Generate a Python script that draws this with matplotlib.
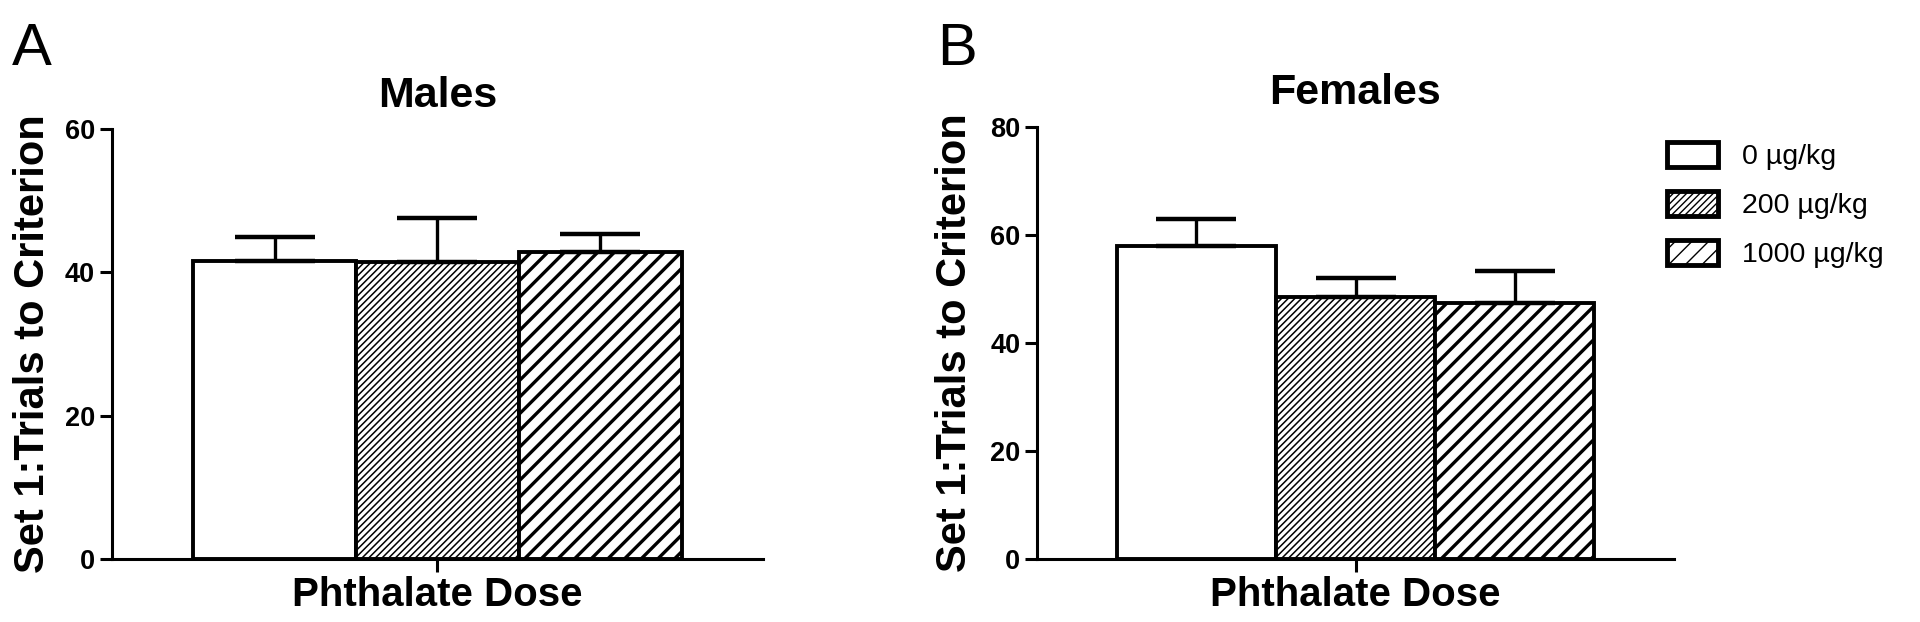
import matplotlib
matplotlib.use("Agg")
import matplotlib.pyplot as plt
import numpy as np

# ---- data ----
doses = ['0 µg/kg', '200 µg/kg', '1000 µg/kg']
males_mean = [41.6, 41.4, 42.8]
males_sem = [3.4, 6.2, 2.6]
females_mean = [58.0, 48.5, 47.4]
females_sem = [4.9, 3.6, 6.0]
hatches = ['', '/////', '//']
hatch_lw = [1.0, 1.1, 2.4]
panel_titles = ['Males', 'Females']
panel_letters = ['A', 'B']
ylims = [60, 80]
yticks_list = [[0, 20, 40, 60], [0, 20, 40, 60, 80]]
ylabel_text = 'Set 1:Trials to Criterion'
xlabel_text = 'Phthalate Dose'

plt.rcParams['font.family'] = ['Liberation Sans', 'DejaVu Sans']

fig = plt.figure(figsize=(19.2, 6.22), dpi=100)
W, H = 1920, 622

# axes positions in pixels: (left, right, top, bottom)
axes_px = [(111.7, 763.0, 129.0, 559.0), (1037.0, 1674.0, 126.7, 559.3)]
ylabel_x_px = [33, 955]
letter_x_px = [12, 937]

axes = []
for i, (l, r, t, b) in enumerate(axes_px):
    ax = fig.add_axes([l / W, (H - b) / H, (r - l) / W, (b - t) / H])
    axes.append(ax)
    means = males_mean if i == 0 else females_mean
    sems = males_sem if i == 0 else females_sem
    x = np.arange(len(doses))
    for j in range(len(doses)):
        hl = hatch_lw[j]
        with plt.rc_context({'hatch.linewidth': hl}):
            bc = ax.bar(x[j], means[j], width=1.0, color='white', edgecolor='black',
                        linewidth=2.8, hatch=hatches[j], label=doses[j], zorder=2)
            for p in bc:
                if hasattr(p, 'set_hatch_linewidth'):
                    p.set_hatch_linewidth(hl)
    ax.errorbar(x, means, yerr=[np.zeros(len(means)), sems], fmt='none',
                ecolor='black', elinewidth=2.4, capsize=29, capthick=3.2, zorder=3)
    ax.set_xlim(-1, 3)
    ax.set_ylim(0, ylims[i])
    ax.set_yticks(yticks_list[i])
    ax.set_xticks([1])
    ax.set_xticklabels([''])
    for s in ['top', 'right']:
        ax.spines[s].set_visible(False)
    for s in ['left', 'bottom']:
        ax.spines[s].set_linewidth(2.2)
    ax.tick_params(axis='both', direction='out', length=9, width=2.2, pad=3,
                   labelsize=19.5)
    for lab in ax.get_yticklabels():
        lab.set_fontweight('bold')
    ax.set_title(panel_titles[i], fontsize=31, fontweight='bold', pad=16)
    ax.set_xlabel(xlabel_text, fontsize=29, fontweight='bold', labelpad=0)
    ax.set_ylabel(ylabel_text, fontsize=30, fontweight='bold')
    ax.yaxis.label.set(ha='center', va='center', rotation_mode='default')
    ax.yaxis.set_label_coords((ylabel_x_px[i] - l) / (r - l), 0.5)
    fig.text(letter_x_px[i] / W, 1 - 22 / H, panel_letters[i], fontsize=43,
             ha='left', va='top')

handles, labels = axes[1].get_legend_handles_labels()
leg = fig.legend(handles, labels, loc='upper left',
                 bbox_to_anchor=(1667 / W, 1 - 142 / H), frameon=False,
                 fontsize=20.5, handlelength=1.8, handleheight=1.0,
                 labelspacing=0.72, handletextpad=0.85, borderpad=0,
                 borderaxespad=0)
for p in leg.get_patches():
    p.set_linewidth(3.5)

fig.savefig('out.png', dpi=100)
